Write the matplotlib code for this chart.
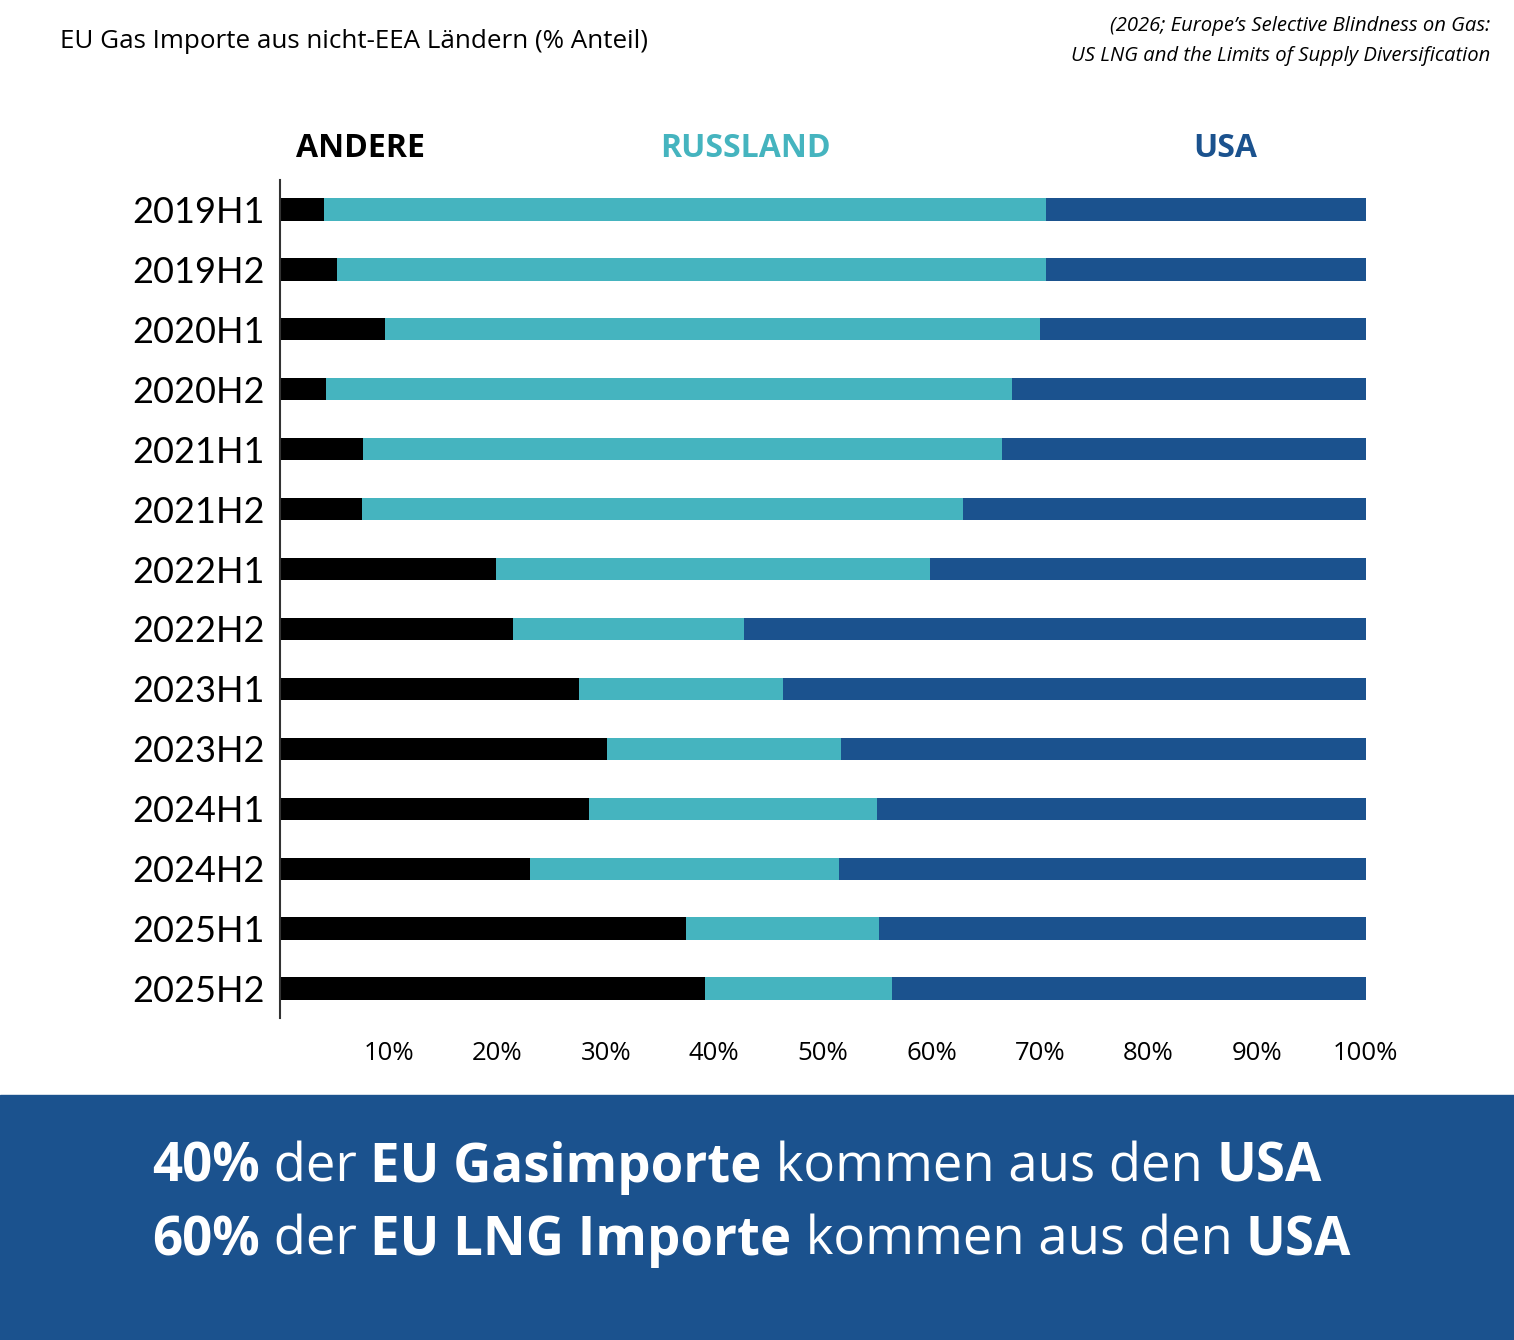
import matplotlib.pyplot as plt
from matplotlib.patches import Rectangle

perioden = ['2019H1', '2019H2', '2020H1', '2020H2', '2021H1', '2021H2', '2022H1',
            '2022H2', '2023H1', '2023H2', '2024H1', '2024H2', '2025H1', '2025H2']
andere = [4.0, 5.2, 9.7, 4.2, 7.6, 7.5, 19.9, 21.5, 27.5, 30.1, 28.5, 23.0, 37.4, 39.1]
russland = [66.6, 65.4, 60.3, 63.2, 58.9, 55.4, 40.0, 21.2, 18.8, 21.6, 26.5, 28.5, 17.8, 17.3]
usa = [29.4, 29.4, 30.0, 32.6, 33.5, 37.1, 40.1, 57.3, 53.7, 48.3, 45.0, 48.5, 44.8, 43.6]
ticks = [10, 20, 30, 40, 50, 60, 70, 80, 90, 100]

SCHWARZ = '#000000'
TUERKIS = '#45b4bf'
BLAU = '#1b528e'

plt.rcParams['font.family'] = ['Open Sans', 'DejaVu Sans']

fig = plt.figure(figsize=(15.14, 13.4), dpi=100)
ax = fig.add_axes([0.185, 0.240, 0.717, 0.626])

y = range(len(perioden))
links2 = [a + r for a, r in zip(andere, russland)]
ax.barh(y, andere, height=0.37, color=SCHWARZ)
ax.barh(y, russland, left=andere, height=0.37, color=TUERKIS)
ax.barh(y, usa, left=links2, height=0.37, color=BLAU)

ax.set_xlim(0, 100)
ax.set_ylim(13.5, -0.5)
ax.set_yticks(list(y))
ax.set_yticklabels(perioden, fontsize=26, family=['Lato', 'DejaVu Sans'])
ax.set_xticks(ticks)
ax.set_xticklabels([f'{t}%' for t in ticks], fontsize=18.5)
ax.tick_params(axis='y', length=0, pad=11)
ax.tick_params(axis='x', length=0, pad=16)
for s in ['top', 'right', 'bottom']:
    ax.spines[s].set_visible(False)
ax.spines['left'].set_color('#333333')
ax.spines['left'].set_linewidth(1.5)

# Kopfzeile der Serien
ax.text(7.4, -1.02, 'ANDERE', color=SCHWARZ, fontsize=23, fontweight='bold',
        ha='center', va='center', clip_on=False)
ax.text(42.9, -1.02, 'RUSSLAND', color=TUERKIS, fontsize=23, fontweight='bold',
        ha='center', va='center', clip_on=False)
ax.text(87.1, -1.02, 'USA', color=BLAU, fontsize=23, fontweight='bold',
        ha='center', va='center', clip_on=False)

fig.text(60/1514, 1 - 41/1340, 'EU Gas Importe aus nicht-EEA Ländern (% Anteil)',
         fontsize=18.7, ha='left', va='center')
fig.text(1490/1514, 1 - 26/1340, '(2026; Europe’s Selective Blindness on Gas:',
         fontsize=14.6, style='italic', ha='right', va='center')
fig.text(1490/1514, 1 - 56/1340, 'US LNG and the Limits of Supply Diversification',
         fontsize=14.6, style='italic', ha='right', va='center')

# Banner unten
fig.patches.append(Rectangle((0, 0), 1, (1340 - 1095) / 1340, transform=fig.transFigure,
                             color=BLAU, zorder=0))

zeilen = [
    [('40%', 'bold'), (' der ', 'normal'), ('EU Gasimporte', 'bold'),
     (' kommen aus den ', 'normal'), ('USA', 'bold')],
    [('60%', 'bold'), (' der ', 'normal'), ('EU LNG Importe', 'bold'),
     (' kommen aus den ', 'normal'), ('USA', 'bold')],
]
fig.canvas.draw()
r = fig.canvas.get_renderer()
for zy, teile in zip([1168, 1241], zeilen):
    x = 152 / 1514
    for txt, w in teile:
        t = fig.text(x, 1 - zy / 1340, txt, fontsize=38, fontweight=w, color='white',
                     ha='left', va='center')
        bb = t.get_window_extent(renderer=r)
        x = bb.x1 / fig.bbox.width

plt.savefig('out.png', dpi=100)
